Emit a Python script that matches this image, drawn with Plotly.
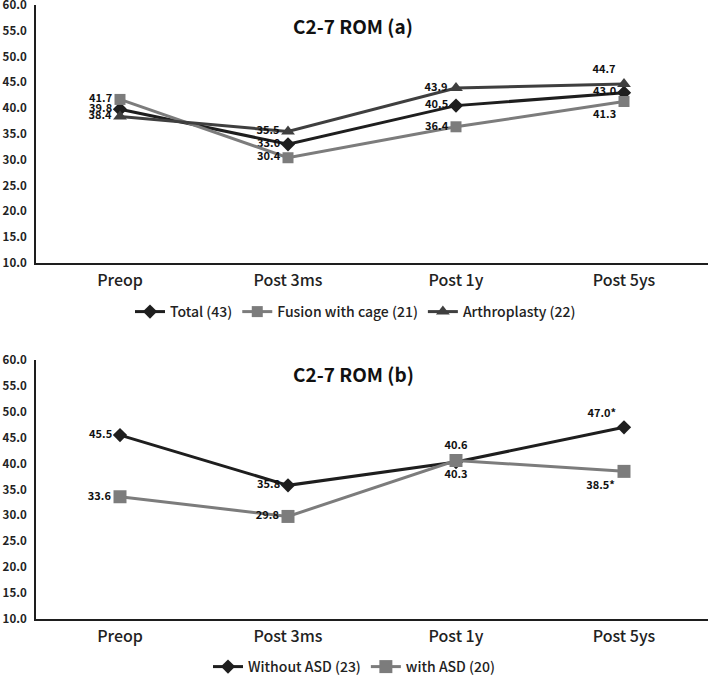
import plotly.graph_objects as go

categories = ["Preop", "Post 3ms", "Post 1y", "Post 5ys"]

total = [39.8, 33.0, 40.5, 43.0]
fusion = [41.7, 30.4, 36.4, 41.3]
arthro = [38.4, 35.5, 43.9, 44.7]

without_asd = [45.5, 35.8, 40.3, 47.0]
with_asd = [33.6, 29.8, 40.6, 38.5]

total_lbl = ["39.8", "33.0", "40.5", "43.0"]
fusion_lbl = ["41.7", "30.4", "36.4", "41.3"]
arthro_lbl = ["38.4", "35.5", "43.9", "44.7"]
without_lbl = ["45.5", "35.8", "40.3", "47.0*"]
with_lbl = ["33.6", "29.8", "40.6", "38.5*"]

yticks = [10, 15, 20, 25, 30, 35, 40, 45, 50, 55, 60]

FONT = "Noto Sans CJK KR"
W, H = 708, 676
ML = 36

def py(px):
    return 1 - px / H

def pxx(px):
    return (px - ML) / (W - ML)

x_idx = list(range(len(categories)))

fig = go.Figure()

lab_font = dict(family=FONT, size=11, color="#111111", weight="bold")

def add(y, name, color, symbol, size, text, pos, xa, ya, legend):
    fig.add_trace(go.Scatter(
        x=x_idx, y=y, name=name, mode="lines+markers+text",
        line=dict(color=color, width=3),
        marker=dict(symbol=symbol, size=size, color=color),
        text=text, textposition=pos, textfont=lab_font,
        xaxis=xa, yaxis=ya, legend=legend, cliponaxis=False,
    ))

add(total, "Total (43)", "#1e1e1e", "diamond", 11, total_lbl,
    ["middle left"] * 4, "x", "y", "legend")
add(fusion, "Fusion with cage (21)", "#7c7c7c", "square", 11, fusion_lbl,
    ["middle left", "middle left", "middle left", "bottom left"], "x", "y", "legend")
add(arthro, "Arthroplasty (22)", "#3f3f3f", "triangle-up", 12, arthro_lbl,
    ["middle left", "middle left", "middle left", "top left"], "x", "y", "legend")

add(without_asd, "Without ASD (23)", "#1e1e1e", "diamond", 11, without_lbl,
    ["middle left", "middle left", "bottom center", "top left"], "x2", "y2", "legend2")
add(with_asd, "with ASD (20)", "#7c7c7c", "square", 13, with_lbl,
    ["middle left", "middle left", "top center", "bottom left"], "x2", "y2", "legend2")

axis_x = dict(
    range=[-0.5, 3.5], tickmode="array", tickvals=x_idx, ticktext=categories,
    showline=True, linecolor="#1e1e1e", linewidth=2, showgrid=False, zeroline=False,
    ticks="", automargin=False, ticklabelstandoff=2,
    tickfont=dict(family=FONT, size=16, color="#222222", weight=500),
)
axis_y = dict(
    range=[10, 60], tickmode="array", tickvals=yticks,
    ticktext=[f"{v:.1f}" for v in yticks],
    showline=True, linecolor="#1e1e1e", linewidth=2, showgrid=False, zeroline=False,
    ticks="", automargin=False, ticklabelstandoff=5, ticklabeloverflow="allow",
    tickfont=dict(family=FONT, size=11.5, color="#222222", weight="bold"),
)

leg_font = dict(family=FONT, size=14, color="#222222", weight=500)

fig.update_layout(
    width=W, height=H,
    margin=dict(l=ML, r=0, t=0, b=0, autoexpand=False),
    paper_bgcolor="white", plot_bgcolor="white",
    xaxis=dict(axis_x, domain=[0, 1], anchor="y"),
    yaxis=dict(axis_y, domain=[py(263), py(5)], anchor="x"),
    xaxis2=dict(axis_x, domain=[0, 1], anchor="y2"),
    yaxis2=dict(axis_y, domain=[py(619), py(360)], anchor="x2"),
    legend=dict(orientation="h", x=pxx(130), y=py(312), yanchor="middle",
                xanchor="left", font=leg_font, bgcolor="rgba(0,0,0,0)"),
    legend2=dict(orientation="h", x=pxx(208), y=py(667), yanchor="middle",
                 xanchor="left", font=leg_font, bgcolor="rgba(0,0,0,0)"),
    annotations=[
        dict(text="C2-7 ROM (a)", x=pxx(353), y=py(25), xref="paper", yref="paper",
             xanchor="center", yanchor="middle", showarrow=False,
             font=dict(family=FONT, size=19, color="#111111", weight="bold")),
        dict(text="C2-7 ROM (b)", x=pxx(353), y=py(373), xref="paper", yref="paper",
             xanchor="center", yanchor="middle", showarrow=False,
             font=dict(family=FONT, size=19, color="#111111", weight="bold")),
    ],
)

fig.write_html(
    "out.html",
    config={"displayModeBar": False},
    post_script="document.body.style.margin='0';document.body.style.overflow='hidden';",
)
